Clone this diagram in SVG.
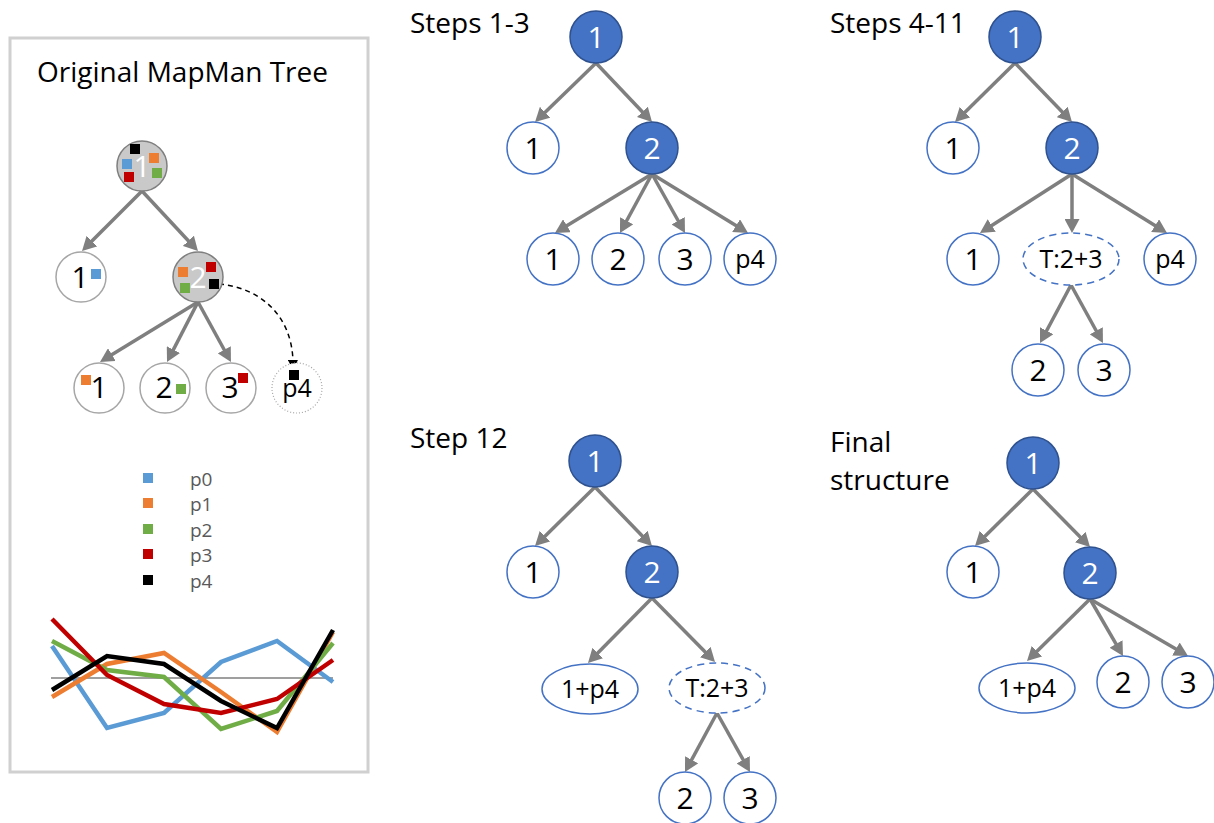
<svg xmlns="http://www.w3.org/2000/svg" width="1214" height="823" viewBox="0 0 1214 823">
  <style>
    text { font-family: "Open Sans", "Liberation Sans", sans-serif; }
    .title { font-size: 28px; fill: #000; }
    .num { font-size: 30px; text-anchor: middle; fill: #000; }
    .numw { font-size: 30px; text-anchor: middle; fill: #fff; }
    .small { font-size: 25px; text-anchor: middle; fill: #000; }
    .legend { font-size: 19px; fill: #595959; }
    .blue { fill: #4472c4; stroke: #2f528f; stroke-width: 1.5; }
    .open { fill: #fff; stroke: #4472c4; stroke-width: 1.5; }
    .temp { fill: #fff; stroke: #4472c4; stroke-width: 1.5; stroke-dasharray: 7 5; }
    .gray { fill: #c9c9c9; stroke: #7f7f7f; stroke-width: 1.5; }
    .plain { fill: #fff; stroke: #a6a6a6; stroke-width: 1.5; }
    .dotted { fill: #fff; stroke: #a6a6a6; stroke-width: 1.2; stroke-dasharray: 1 2; }
    .edge { stroke: #7f7f7f; stroke-width: 3.5; fill: none; marker-end: url(#arrow); }
    .series { fill: none; stroke-width: 4.5; stroke-linejoin: miter; }
    .c0 { fill: #5b9bd5; } .c1 { fill: #ed7d31; } .c2 { fill: #70ad47; } .c3 { fill: #c00000; } .c4 { fill: #000; }
  </style>
  <defs>
    <marker id="arrow" markerUnits="userSpaceOnUse" markerWidth="14" markerHeight="15" refX="6" refY="7.5" orient="auto">
      <path d="M0,0 L14,7.5 L0,15 z" fill="#7f7f7f"/>
    </marker>
    <marker id="arrowSmall" markerUnits="userSpaceOnUse" markerWidth="10" markerHeight="10" refX="2" refY="5" orient="auto">
      <path d="M0,0 L10,5 L0,10 z" fill="#000"/>
    </marker>
  </defs>

  <rect width="1214" height="823" fill="#fff"/>

  <!-- left panel: original tree -->
  <rect x="10" y="38" width="358" height="734" fill="none" stroke="#d0d0d0" stroke-width="3"/>
  <text class="title" x="37" y="82">Original MapMan Tree</text>

  <g id="orig-connectors">
    <line class="edge" x1="142" y1="191" x2="87.7" y2="245.3"/>
    <line class="edge" x1="142" y1="191" x2="192.5" y2="245.2"/>
    <line class="edge" x1="198" y1="302" x2="106.8" y2="357.8"/>
    <line class="edge" x1="198" y1="302" x2="170.7" y2="354.9"/>
    <line class="edge" x1="198" y1="302" x2="227.1" y2="355"/>
    <path d="M219,284 C256,287 292,312 293,362" fill="none" stroke="#000" stroke-width="1.5" stroke-dasharray="5 4" marker-end="url(#arrowSmall)"/>
  </g>

  <g id="orig-root">
    <circle class="gray" cx="142" cy="166" r="25"/>
    <text class="numw" x="142" y="177">1</text>
    <rect class="c4" x="130" y="144" width="10" height="10"/>
    <rect class="c0" x="122" y="159" width="10" height="10"/>
    <rect class="c1" x="149" y="153" width="10" height="10"/>
    <rect class="c3" x="124" y="172" width="10" height="10"/>
    <rect class="c2" x="152" y="168" width="10" height="10"/>
  </g>
  <g id="orig-n1">
    <circle class="plain" cx="81" cy="277" r="25"/>
    <text class="num" x="80" y="288">1</text>
    <rect class="c0" x="91" y="269" width="10" height="10"/>
  </g>
  <g id="orig-n2">
    <circle class="gray" cx="198" cy="277" r="25"/>
    <text class="numw" x="198" y="288">2</text>
    <rect class="c1" x="178" y="267" width="10" height="10"/>
    <rect class="c3" x="206" y="262" width="10" height="10"/>
    <rect class="c2" x="180" y="283" width="10" height="10"/>
    <rect class="c4" x="209" y="279" width="10" height="10"/>
  </g>
  <g id="orig-n21">
    <circle class="plain" cx="99" cy="388" r="25"/>
    <text class="num" x="99" y="398">1</text>
    <rect class="c1" x="81" y="375" width="10" height="10"/>
  </g>
  <g id="orig-n22">
    <circle class="plain" cx="165" cy="388" r="25"/>
    <text class="num" x="164" y="398">2</text>
    <rect class="c2" x="176" y="384" width="10" height="10"/>
  </g>
  <g id="orig-n23">
    <circle class="plain" cx="231" cy="388" r="25"/>
    <text class="num" x="230" y="398">3</text>
    <rect class="c3" x="238" y="373" width="10" height="10"/>
  </g>
  <g id="orig-p4">
    <circle class="dotted" cx="297" cy="388" r="25"/>
    <text class="small" x="297" y="397">p4</text>
    <rect class="c4" x="289" y="370" width="10" height="10"/>
  </g>

  <!-- legend -->
  <g id="legend">
    <rect class="c0" x="143" y="473" width="10" height="10"/>
    <rect class="c1" x="143" y="498" width="10" height="10"/>
    <rect class="c2" x="143" y="524" width="10" height="10"/>
    <rect class="c3" x="143" y="549" width="10" height="10"/>
    <rect class="c4" x="143" y="575" width="10" height="10"/>
    <text class="legend" x="190" y="486">p0</text>
    <text class="legend" x="190" y="511">p1</text>
    <text class="legend" x="190" y="537">p2</text>
    <text class="legend" x="190" y="562">p3</text>
    <text class="legend" x="190" y="588">p4</text>
  </g>

  <!-- profile chart -->
  <g id="chart">
    <line x1="51" y1="678" x2="333" y2="678" stroke="#7f7f7f" stroke-width="1.5"/>
    <polyline class="series" stroke="#5b9bd5" points="52,646 107,728 164,713 221,662 277,641 333,682"/>
    <polyline class="series" stroke="#ed7d31" points="52,697 107,664 164,653 221,692 277,732 333,632"/>
    <polyline class="series" stroke="#70ad47" points="52,641 107,670 164,677 221,729 277,711 333,643"/>
    <polyline class="series" stroke="#c00000" points="52,619 107,675 164,704 221,713 277,699 333,660"/>
    <polyline class="series" stroke="#000000" points="52,690 107,656 164,664 221,701 277,728 333,630"/>
  </g>

  <!-- Steps 1-3 -->
  <text class="title" x="410" y="33">Steps 1-3</text>
  <g id="s1-connectors">
    <line class="edge" x1="596" y1="63" x2="540.8" y2="116.4"/>
    <line class="edge" x1="596" y1="63" x2="646.5" y2="116.2"/>
    <line class="edge" x1="652" y1="174" x2="561.8" y2="228.8"/>
    <line class="edge" x1="652" y1="174" x2="623.8" y2="226"/>
    <line class="edge" x1="652" y1="174" x2="681.1" y2="226"/>
    <line class="edge" x1="652" y1="174" x2="741.2" y2="228.8"/>
  </g>
  <g id="s1-root"><circle class="blue" cx="596" cy="37" r="26"/><text class="numw" x="596" y="48">1</text></g>
  <g id="s1-n1"><circle class="open" cx="533" cy="148" r="26"/><text class="num" x="533" y="159">1</text></g>
  <g id="s1-n2"><circle class="blue" cx="652" cy="148" r="26"/><text class="numw" x="652" y="159">2</text></g>
  <g id="s1-n21"><circle class="open" cx="553" cy="259" r="26"/><text class="num" x="553" y="270">1</text></g>
  <g id="s1-n22"><circle class="open" cx="618" cy="259" r="26"/><text class="num" x="618" y="270">2</text></g>
  <g id="s1-n23"><circle class="open" cx="685" cy="259" r="26"/><text class="num" x="685" y="270">3</text></g>
  <g id="s1-p4"><circle class="open" cx="750" cy="259" r="26"/><text class="small" x="750" y="268">p4</text></g>

  <!-- Steps 4-11 -->
  <text class="title" x="830" y="33">Steps 4-11</text>
  <g id="s2-connectors">
    <line class="edge" x1="1015" y1="63" x2="960.7" y2="116.4"/>
    <line class="edge" x1="1015" y1="63" x2="1066.4" y2="116.2"/>
    <line class="edge" x1="1072" y1="174" x2="986.7" y2="228.7"/>
    <line class="edge" x1="1072" y1="174" x2="1072" y2="225"/>
    <line class="edge" x1="1072" y1="174" x2="1160.2" y2="228.8"/>
    <line class="edge" x1="1071" y1="285" x2="1043.8" y2="336"/>
    <line class="edge" x1="1071" y1="285" x2="1099.1" y2="336"/>
  </g>
  <g id="s2-root"><circle class="blue" cx="1015" cy="37" r="26"/><text class="numw" x="1015" y="48">1</text></g>
  <g id="s2-n1"><circle class="open" cx="953" cy="148" r="26"/><text class="num" x="953" y="159">1</text></g>
  <g id="s2-n2"><circle class="blue" cx="1072" cy="148" r="26"/><text class="numw" x="1072" y="159">2</text></g>
  <g id="s2-n21"><circle class="open" cx="973" cy="259" r="26"/><text class="num" x="973" y="270">1</text></g>
  <g id="s2-t23"><ellipse class="temp" cx="1071" cy="259" rx="48" ry="26"/><text class="small" x="1071" y="268">T:2+3</text></g>
  <g id="s2-p4"><circle class="open" cx="1170" cy="259" r="26"/><text class="small" x="1170" y="268">p4</text></g>
  <g id="s2-n22"><circle class="open" cx="1038" cy="370" r="26"/><text class="num" x="1038" y="381">2</text></g>
  <g id="s2-n23"><circle class="open" cx="1104" cy="370" r="26"/><text class="num" x="1104" y="381">3</text></g>

  <!-- Step 12 -->
  <text class="title" x="410" y="448">Step 12</text>
  <g id="s3-connectors">
    <line class="edge" x1="595" y1="487" x2="540.7" y2="540.4"/>
    <line class="edge" x1="595" y1="487" x2="646.4" y2="540.2"/>
    <line class="edge" x1="652" y1="598" x2="593.6" y2="657.3"/>
    <line class="edge" x1="652" y1="598" x2="709.4" y2="656.3"/>
    <line class="edge" x1="717" y1="713" x2="688.8" y2="765"/>
    <line class="edge" x1="717" y1="713" x2="746.1" y2="765"/>
  </g>
  <g id="s3-root"><circle class="blue" cx="595" cy="461" r="26"/><text class="numw" x="595" y="472">1</text></g>
  <g id="s3-n1"><circle class="open" cx="533" cy="572" r="26"/><text class="num" x="533" y="583">1</text></g>
  <g id="s3-n2"><circle class="blue" cx="652" cy="572" r="26"/><text class="numw" x="652" y="583">2</text></g>
  <g id="s3-m1p4"><ellipse class="open" cx="590" cy="689" rx="48" ry="25"/><text class="small" x="590" y="698">1+p4</text></g>
  <g id="s3-t23"><ellipse class="temp" cx="717" cy="688" rx="48" ry="25"/><text class="small" x="717" y="697">T:2+3</text></g>
  <g id="s3-n22"><circle class="open" cx="685" cy="798" r="26"/><text class="num" x="685" y="809">2</text></g>
  <g id="s3-n23"><circle class="open" cx="750" cy="798" r="26"/><text class="num" x="750" y="809">3</text></g>

  <!-- Final structure -->
  <text class="title" x="830" y="452">Final</text>
  <text class="title" x="830" y="490">structure</text>
  <g id="s4-connectors">
    <line class="edge" x1="1033" y1="489" x2="980.7" y2="540.4"/>
    <line class="edge" x1="1033" y1="489" x2="1084.4" y2="541.3"/>
    <line class="edge" x1="1090" y1="599" x2="1032.7" y2="655.4"/>
    <line class="edge" x1="1090" y1="599" x2="1119" y2="649.1"/>
    <line class="edge" x1="1090" y1="599" x2="1181.1" y2="652"/>
  </g>
  <g id="s4-root"><circle class="blue" cx="1033" cy="463" r="26"/><text class="numw" x="1033" y="474">1</text></g>
  <g id="s4-n1"><circle class="open" cx="973" cy="572" r="26"/><text class="num" x="973" y="583">1</text></g>
  <g id="s4-n2"><circle class="blue" cx="1090" cy="573" r="26"/><text class="numw" x="1090" y="584">2</text></g>
  <g id="s4-m1p4"><ellipse class="open" cx="1027" cy="688" rx="48" ry="25"/><text class="small" x="1027" y="697">1+p4</text></g>
  <g id="s4-n22"><circle class="open" cx="1123" cy="682" r="26"/><text class="num" x="1123" y="693">2</text></g>
  <g id="s4-n23"><circle class="open" cx="1188" cy="682" r="26"/><text class="num" x="1188" y="693">3</text></g>
</svg>
